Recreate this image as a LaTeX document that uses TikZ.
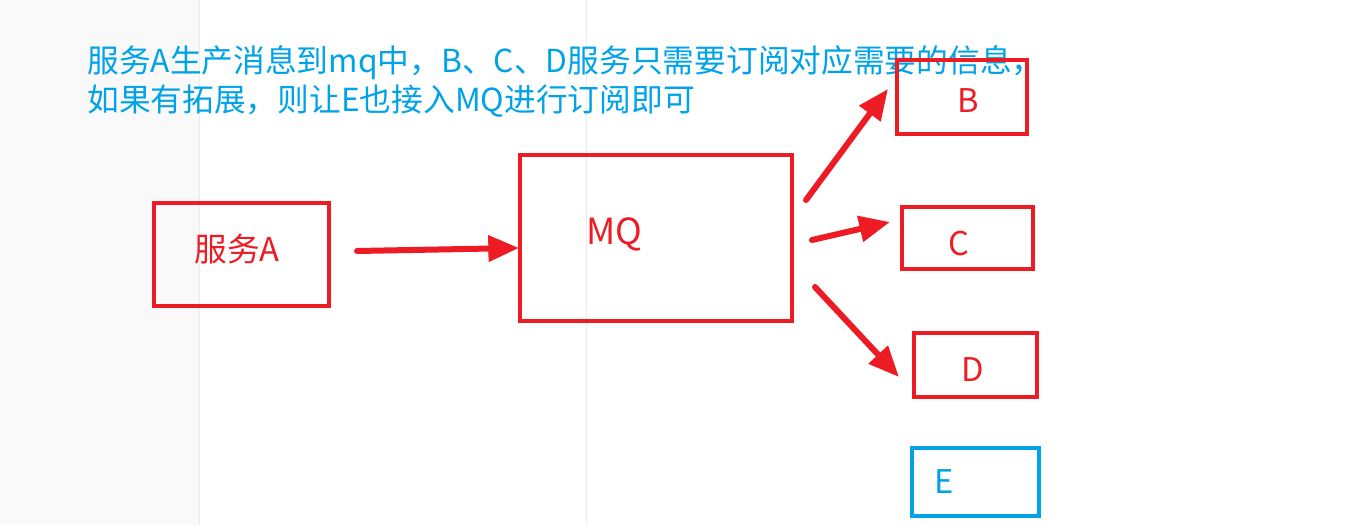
\documentclass[tikz,border=0pt]{standalone}
\usepackage{fontspec}
\setmainfont{Noto Sans CJK SC}
\usetikzlibrary{arrows.meta}
\definecolor{pred}{RGB}{237,28,36}
\definecolor{pblue}{RGB}{0,162,232}
\definecolor{pgray}{RGB}{249,249,249}
\definecolor{pline}{RGB}{236,236,236}
\begin{document}
\begin{tikzpicture}[x=0.75pt,y=-0.75pt,
  box/.style={draw=pred,line width=3pt,minimum width=#1,inner sep=0pt},
  lbl/.style={text=pred,font=\fontsize{24.5pt}{28pt}\selectfont,inner sep=0pt},
  arr/.style={draw=pred,line width=4.5pt,line cap=round,-{Triangle[length=23pt,width=19pt]}},
  note/.style={text=pblue,font=\fontsize{23.8pt}{28pt}\selectfont,anchor=base west,inner sep=0pt}]
\useasboundingbox (0,0) rectangle (1359,525);
\fill[pgray] (0,0) rectangle (199,525);
\draw[pline,line width=0.75pt] (199,0) -- (199,525);
\draw[pline,line width=0.75pt] (586,0) -- (586,525);
\node[note] (t1) at (87,72) {服务A生产消息到mq中，B、C、D服务只需要订阅对应需要的信息，};
\node[note] (t2) at (87,111) {如果有拓展，则让E也接入MQ进行订阅即可};
% boxes
\node[box=175*0.75pt,minimum height=103*0.75pt] (A) at (241.5,254.5) {};
\node[box=272*0.75pt,minimum height=166*0.75pt] (MQ) at (656,238) {};
\node[box=130*0.75pt,minimum height=74*0.75pt] (B) at (962,97) {};
\node[box=131*0.75pt,minimum height=62*0.75pt] (C) at (967.5,238) {};
\node[box=123*0.75pt,minimum height=64*0.75pt] (D) at (975.5,365) {};
\node[draw=pblue,line width=3pt,minimum width=127*0.75pt,minimum height=68*0.75pt,inner sep=0pt] (E) at (975.5,482) {};
% labels
\node[lbl] (lA) at (237,249) {服务A};
\node[lbl,font=\fontsize{27pt}{30pt}\selectfont] (lMQ) at (614,234) {MQ};
\node[lbl] (lB) at (968,101) {B};
\node[lbl] (lC) at (959,244) {C};
\node[lbl] (lD) at (973,370) {D};
\node[lbl,text=pblue] (lE) at (944,482) {E};
% arrow coordinates
\coordinate (a0) at (357,251);
\coordinate (a1) at (519,248);
\coordinate (b0) at (806,200);
\coordinate (b1) at (888,89);
\coordinate (c0) at (812,240);
\coordinate (c1) at (890,222);
\coordinate (d0) at (815,287);
\coordinate (d1) at (899,377);
\draw[arr] (a0) -- (a1);
\draw[arr] (b0) -- (b1);
\draw[arr] (c0) -- (c1);
\draw[arr] (d0) -- (d1);
\end{tikzpicture}
\end{document}
